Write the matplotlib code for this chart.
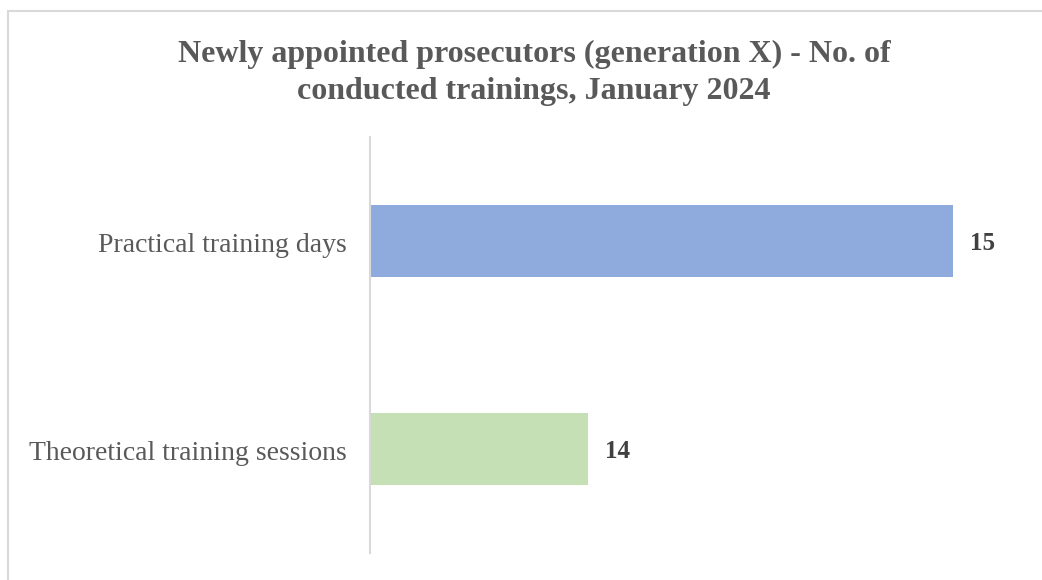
import matplotlib
matplotlib.use("Agg")
import matplotlib.pyplot as plt
import matplotlib.transforms as mtransforms
from matplotlib.patches import Rectangle

categories = ["Practical training days", "Theoretical training sessions"]
values = [15, 14]
colors = ["#8FAADC", "#C5E0B4"]
title = "Newly appointed prosecutors (generation X) - No. of\nconducted trainings, January 2024"

W, H = 1042, 580
fig = plt.figure(figsize=(W / 100, H / 100), dpi=100)
fig.patch.set_facecolor("white")

# chart frame (only top and left edges visible)
fig.patches.append(Rectangle((7.5 / W, -0.1), 1.2, 1 - 10.5 / H + 0.1,
                             transform=fig.transFigure, fill=False,
                             edgecolor="#D9D9D9", linewidth=1.5))

ax = fig.add_axes([370 / W, 1 - 553 / H, (1010 - 370) / W, (553 - 137) / H])
y = list(range(len(categories)))
ax.barh(y, values, height=0.35, color=colors)
ax.set_ylim(1.5, -0.5)
ax.set_xlim(13.403, 15.156)
ax.set_yticks(y)
ax.set_yticklabels(categories, fontfamily="Liberation Serif", fontsize=20, color="#595959")
ax.tick_params(axis="y", length=0, pad=16.5)
shift = mtransforms.ScaledTranslation(0, -2 / 100, fig.dpi_scale_trans)
for lbl in ax.get_yticklabels():
    lbl.set_transform(lbl.get_transform() + shift)
ax.set_xticks([])
for s in ["top", "right", "bottom"]:
    ax.spines[s].set_visible(False)
ax.spines["left"].set_color("#D9D9D9")
ax.spines["left"].set_linewidth(1.5)

for yi, v in zip(y, values):
    ax.annotate(str(v), (v, yi), xytext=(17, -3), textcoords="offset pixels",
                ha="left", va="center", fontfamily="Liberation Serif", fontweight="bold",
                fontsize=18, color="#404040")

fig.text(534 / W, 1 - 73 / H, title, ha="center", va="center", fontfamily="Liberation Serif",
         fontweight="bold", fontsize=23, color="#595959", linespacing=1.35)

fig.savefig("out.png", dpi=100)
